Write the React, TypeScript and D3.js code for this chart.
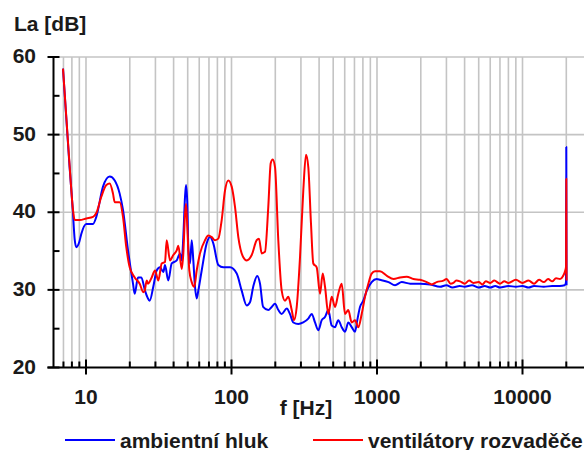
import React from "react";
import * as d3 from "d3";

const yTicks = [20, 30, 40, 50, 60];
const yMinorTicks = [25, 35, 45, 55];
const xMajorTicks = [10, 100, 1000, 10000];
const xTickLabels = ["10", "100", "1000", "10000"];
const seriesNames = ["ambientní hluk", "ventilátory rozvaděče"];
const seriesColors = ["#0000ff", "#ff0000"];

const ambient: [number, number][] = [
  [6.95, 58.5], [7.3, 52.5], [7.7, 46], [8.1, 40.5], [8.36, 36.5], [8.58, 35.5], [9.0, 36.2],
  [9.28, 37.2], [10.05, 38.5], [11.17, 38.5], [11.77, 39.4], [13.09, 43.3], [14.55, 44.6],
  [15.75, 44.1], [17.04, 42.4], [17.96, 40.3], [19.44, 35.1], [21.04, 30.8], [21.61, 29.5],
  [22.78, 31.6], [23.99, 31.6], [25.44, 29.9], [26.5, 29.0], [27.4, 28.6], [29.0, 30.4],
  [30.61, 32.5], [32.26, 32.9], [34, 32.3], [34.91, 33.2], [36.78, 31.2], [38.81, 33.4],
  [42.02, 33.8], [44.26, 34.7], [45.48, 33.8], [46.65, 36.8], [47.92, 42.0], [48.7, 43.5],
  [49.7, 41.1], [50.5, 35.5], [51.86, 33.4], [53.27, 36.4], [54.64, 33.8], [56.12, 30.4],
  [57.65, 28.9], [59.13, 29.9], [62.4, 32.5], [67.55, 36.0], [71.16, 36.8], [74.98, 36.0],
  [81.16, 33.2], [87.83, 32.9], [97.66, 32.9], [108.6, 32.1], [117.5, 29.9], [127.2, 28.0],
  [134, 28.4], [141, 30.4], [150.4, 31.8], [157, 30.8], [165, 27.8], [179, 27.4], [189, 27.8],
  [199, 28.2], [210, 27.4], [221, 26.9], [240, 27.6], [252, 26.9], [266, 25.8], [288, 25.6],
  [311, 25.8], [337, 26.3], [356, 26.9], [375, 25.8], [395, 24.8], [417, 26.1], [439, 26.5],
  [463, 27.4], [488, 25.4], [514, 25.2], [542, 26.1], [572, 25.2], [603, 24.6], [635, 25.8],
  [670, 25.2], [706, 24.6], [732, 26.1], [764, 27.8], [805, 28.6], [850, 29.9], [919, 31.0],
  [995, 31.4], [1050, 31.3], [1200, 31.0], [1330, 30.6], [1480, 31.0], [1690, 30.8],
  [1975, 30.8], [2310, 30.7], [2710, 30.4], [3000, 30.6], [3300, 30.3], [3700, 30.5],
  [4000, 30.4], [4500, 30.6], [5000, 30.3], [5500, 30.5], [6000, 30.3], [6500, 30.5],
  [7000, 30.3], [8000, 30.5], [9000, 30.4], [10000, 30.5], [11000, 30.3], [12000, 30.5],
  [14000, 30.4], [16000, 30.5], [18000, 30.5], [19500, 30.6], [19900, 31.0], [20000, 48.4],
  [20080, 30.6],
];

const ventilators: [number, number][] = [
  [6.95, 58.5], [7.32, 52.3], [7.73, 45.8], [8.14, 40.3], [8.36, 39.0], [9.05, 39.0],
  [10.05, 39.2], [11.17, 39.4], [11.77, 39.9], [12.74, 42.0], [13.79, 43.5], [14.55, 43.7],
  [15.33, 42.4], [15.75, 41.3], [17.04, 41.3], [17.96, 39.4], [18.92, 35.5], [19.97, 32.9],
  [21.61, 31.6], [23.39, 30.8], [24.77, 29.7], [25.32, 29.9], [26.14, 31.2], [26.68, 30.8],
  [28.29, 31.6], [29.8, 32.5], [31.4, 31.2], [33.14, 33.4], [34.91, 33.6], [35.86, 36.4],
  [37.79, 33.8], [39.81, 34.5], [42.02, 35.1], [43.1, 35.7], [45.48, 32.7], [46.65, 34.7],
  [47.92, 39.8], [48.7, 41.1], [49.7, 38.1], [51.3, 32.5], [53.27, 31.0], [55.5, 30.4],
  [57.65, 32.5], [60.75, 34.7], [65.75, 36.4], [69.27, 37.0], [73.1, 36.8], [77.03, 36.4],
  [81.16, 36.6], [85.63, 39.0], [90.23, 42.8], [95.06, 44.1], [100.3, 43.3], [105.7, 40.7],
  [111.4, 36.8], [120.5, 34.2], [127.2, 33.8], [137.7, 34.5], [149, 36.4], [154.5, 36.6],
  [161.3, 34.7], [169.9, 34.9], [179, 40.7], [186, 46.3], [192, 46.8], [199.1, 45.8],
  [209.7, 36.4], [221.3, 29.9], [233.2, 28.6], [245.8, 29.1], [259.3, 27.4], [269, 26.1],
  [280.7, 27.8], [295.7, 34.2], [311.5, 42.8], [325.1, 47.4], [337.2, 45.8], [351.9, 38.5],
  [364.9, 33.4], [385.1, 32.9], [405.8, 29.5], [423.6, 32.1], [439.3, 30.4], [462.8, 26.9],
  [488.4, 29.1], [514.5, 27.8], [542, 29.5], [572, 30.8], [602.8, 26.9], [635, 27.4],
  [670, 25.8], [706, 26.1], [744, 25.2], [785, 26.9], [827, 29.1], [872, 30.8], [919, 32.1],
  [969, 32.4], [1048, 32.4], [1170, 31.8], [1300, 31.4], [1440, 31.6], [1600, 31.7],
  [1780, 31.4], [1975, 31.3], [2200, 31.0], [2380, 30.7], [2570, 31.0], [2860, 31.2],
  [3010, 31.4], [3200, 30.8], [3350, 30.9], [3500, 31.2], [3720, 31.1], [4000, 30.8],
  [4300, 31.2], [4600, 30.9], [5000, 31.0], [5300, 30.7], [5600, 31.1], [6000, 30.9],
  [6400, 31.2], [7000, 30.8], [7500, 31.1], [8000, 30.9], [9000, 31.3], [10000, 30.9],
  [11000, 31.2], [12000, 30.8], [13000, 31.3], [14000, 31.0], [15000, 31.4], [16000, 31.1],
  [17000, 31.5], [18100, 31.4], [19000, 31.8], [19600, 32.4], [19920, 33.0], [20000, 44.3],
  [20080, 31.2],
];

const FONT = "'Liberation Sans', Arial, sans-serif";

export default function App() {
  const W = 584;
  const H = 450;
  const x = d3.scaleLog().domain([10, 10000]).range([86, 522.5]);
  const y = d3.scaleLinear().domain([20, 60]).range([367.5, 57]);
  const left = 53.5;
  const right = 600;
  const top = y(60);
  const bottom = y(20);

  const minorFreqs: number[] = [];
  [1, 10, 100, 1000, 10000].forEach((dec) => {
    for (let m = 1; m <= 9; m++) {
      const f = m * dec;
      if (f >= 7 && f <= 20000) minorFreqs.push(f);
    }
  });
  const minorOnly = minorFreqs.filter((f) => !xMajorTicks.includes(f));

  const line = d3
    .line<[number, number]>()
    .x((d) => x(d[0]))
    .y((d) => y(d[1]))
    .curve(d3.curveMonotoneX);

  const textColor = "#1a1a1a";
  const fs = 21;

  return (
    <svg
      width={W}
      height={H}
      style={{ position: "absolute", left: 0, top: 0, background: "#fff" }}
    >
      <defs>
        <clipPath id="plot">
          <rect x={left} y={top - 5} width={right - left} height={bottom - top + 5} />
        </clipPath>
      </defs>
      {minorFreqs.map((f) => (
        <line key={"gv" + f} x1={x(f)} x2={x(f)} y1={top} y2={bottom} stroke="#c4c4c4" strokeWidth={1.6} />
      ))}
      {yTicks.filter((t) => t !== 20).map((t) => (
        <line key={"gh" + t} x1={left} x2={right} y1={y(t)} y2={y(t)} stroke="#c4c4c4" strokeWidth={1.6} />
      ))}
      <g clipPath="url(#plot)">
        <path d={line(ambient) || ""} fill="none" stroke={seriesColors[0]} strokeWidth={2} strokeLinejoin="round" />
        <path d={line(ventilators) || ""} fill="none" stroke={seriesColors[1]} strokeWidth={2} strokeLinejoin="round" />
      </g>
      <line x1={left} x2={left} y1={top} y2={bottom} stroke="#000" strokeWidth={2} />
      <line x1={left - 6} x2={right} y1={bottom} y2={bottom} stroke="#000" strokeWidth={2} />
      {yTicks.map((t) => (
        <line key={"yt" + t} x1={left - 6} x2={left + 6} y1={y(t)} y2={y(t)} stroke="#000" strokeWidth={2} />
      ))}
      {yMinorTicks.map((t) => (
        <line key={"ym" + t} x1={left} x2={left + 6} y1={y(t)} y2={y(t)} stroke="#000" strokeWidth={2} />
      ))}
      {minorOnly.map((f) => (
        <line key={"xm" + f} x1={x(f)} x2={x(f)} y1={bottom - 6} y2={bottom} stroke="#000" strokeWidth={2} />
      ))}
      {xMajorTicks.map((f) => (
        <line key={"xM" + f} x1={x(f)} x2={x(f)} y1={bottom - 8} y2={bottom + 7} stroke="#000" strokeWidth={2} />
      ))}
      {yTicks.map((t) => (
        <text key={"yl" + t} x={36} y={y(t) + 6} textAnchor="end" fontFamily={FONT} fontWeight="bold" fontSize={fs} fill={textColor}>
          {t}
        </text>
      ))}
      {xMajorTicks.map((f, i) => (
        <text key={"xl" + f} x={x(f)} y={404} textAnchor="middle" fontFamily={FONT} fontWeight="bold" fontSize={fs} fill={textColor}>
          {xTickLabels[i]}
        </text>
      ))}
      <text x={14} y={31} fontFamily={FONT} fontWeight="bold" fontSize={fs} fill={textColor}>
        La [dB]
      </text>
      <text x={306} y={415} textAnchor="middle" fontFamily={FONT} fontWeight="bold" fontSize={fs} fill={textColor}>
        f [Hz]
      </text>
      <line x1={65} x2={115} y1={440} y2={440} stroke={seriesColors[0]} strokeWidth={2} />
      <text x={120} y={448} fontFamily={FONT} fontWeight="bold" fontSize={fs} fill={textColor}>
        {seriesNames[0]}
      </text>
      <line x1={313} x2={363} y1={440} y2={440} stroke={seriesColors[1]} strokeWidth={2} />
      <text x={368} y={448} fontFamily={FONT} fontWeight="bold" fontSize={fs} fill={textColor}>
        {seriesNames[1]}
      </text>
    </svg>
  );
}
